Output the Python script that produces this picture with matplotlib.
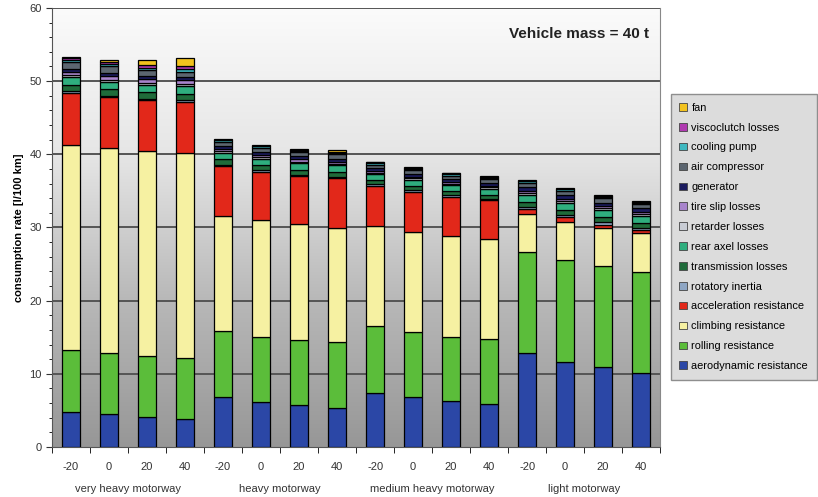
import numpy as np
import matplotlib.pyplot as plt
from matplotlib.patches import Patch

plt.rcParams['font.family'] = ['Liberation Sans', 'DejaVu Sans']

# 온도별 막대 라벨과 도로 구간
temps = ['-20', '0', '20', '40'] * 4
groups = ['very heavy motorway', 'heavy motorway', 'medium heavy motorway', 'light motorway']

# 각 손실 항목 (아래부터 위로 쌓는 순서)
aero = [4.8, 4.5, 4.1, 3.8, 6.8, 6.1, 5.8, 5.3, 7.4, 6.8, 6.3, 5.9, 12.8, 11.6, 10.9, 10.1]
rolling = [8.4, 8.3, 8.3, 8.4, 9.0, 8.9, 8.8, 9.0, 9.1, 8.9, 8.7, 8.8, 13.9, 13.9, 13.8, 13.8]
climbing = [28.1, 28.1, 28.1, 28.0, 15.8, 16.0, 15.9, 15.6, 13.7, 13.7, 13.8, 13.7, 5.1, 5.3, 5.2, 5.3]
accel = [7.1, 6.9, 6.9, 7.0, 6.8, 6.6, 6.5, 6.8, 5.5, 5.5, 5.4, 5.3, 0.7, 0.6, 0.5, 0.4]
rot_inertia = [0.2, 0.2, 0.2, 0.2, 0.2, 0.2, 0.2, 0.2, 0.2, 0.2, 0.2, 0.2, 0.3, 0.3, 0.3, 0.3]
transmission = [0.9, 0.9, 0.9, 0.9, 0.7, 0.7, 0.7, 0.7, 0.6, 0.6, 0.6, 0.6, 0.7, 0.7, 0.7, 0.7]
rear_axel = [1.0, 1.0, 1.0, 1.0, 0.9, 0.9, 0.9, 0.9, 0.8, 0.8, 0.8, 0.8, 1.0, 1.0, 1.0, 1.0]
retarder = [0.3, 0.3, 0.3, 0.3, 0.2, 0.2, 0.2, 0.2, 0.2, 0.2, 0.2, 0.2, 0.2, 0.2, 0.2, 0.2]
tire_slip = [0.5, 0.5, 0.5, 0.5, 0.3, 0.3, 0.3, 0.3, 0.2, 0.2, 0.2, 0.2, 0.3, 0.3, 0.3, 0.3]
generator = [0.4, 0.4, 0.4, 0.4, 0.4, 0.4, 0.4, 0.4, 0.4, 0.4, 0.4, 0.4, 0.5, 0.5, 0.5, 0.5]
air_comp = [0.9, 0.9, 0.8, 0.8, 0.6, 0.6, 0.6, 0.6, 0.5, 0.5, 0.5, 0.5, 0.6, 0.6, 0.6, 0.6]
cooling = [0.3, 0.3, 0.3, 0.3, 0.2, 0.2, 0.2, 0.2, 0.2, 0.2, 0.2, 0.2, 0.2, 0.2, 0.2, 0.2]
visco = [0.3, 0.3, 0.4, 0.4, 0.1, 0.1, 0.1, 0.1, 0.1, 0.1, 0.1, 0.1, 0.1, 0.1, 0.1, 0.1]
fan = [0.1, 0.3, 0.7, 1.2, 0.1, 0.1, 0.1, 0.3, 0.1, 0.1, 0.1, 0.2, 0.1, 0.1, 0.1, 0.1]

series = [aero, rolling, climbing, accel, rot_inertia, transmission, rear_axel,
          retarder, tire_slip, generator, air_comp, cooling, visco, fan]
names = ['aerodynamic resistance', 'rolling resistance', 'climbing resistance',
         'acceleration resistance', 'rotatory inertia', 'transmission losses',
         'rear axel losses', 'retarder losses', 'tire slip losses', 'generator',
         'air compressor', 'cooling pump', 'viscoclutch losses', 'fan']
colors = ['#2b47a6', '#5bbd3a', '#f6f1a2', '#e2281a', '#8ea6c4', '#1f6b3a',
          '#2fae7e', '#c8ccd4', '#a884cc', '#1b1b5e', '#5c6670', '#3fb8c0',
          '#b03ab0', '#f2c21e']

fig = plt.figure(figsize=(8.18, 4.97), dpi=100)
ax = fig.add_axes([0.0636, 0.1006, 0.7434, 0.8834])

# 배경 그라데이션
grad = np.linspace(0, 1, 256).reshape(-1, 1)
ax.imshow(grad, extent=[-0.5, 15.5, 0, 60], aspect='auto', origin='upper',
          cmap=plt.matplotlib.colors.LinearSegmentedColormap.from_list(
              'bg', ['#fbfbfb', '#e6e6e6', '#b8b8b8', '#979797']), zorder=0)

x = np.arange(16)
bottom = np.zeros(16)
for vals, c in zip(series, colors):
    ax.bar(x, vals, 0.48, bottom=bottom, color=c, edgecolor='black', linewidth=0.9, zorder=3)
    bottom += np.array(vals)

ax.set_xlim(-0.5, 15.5)
ax.set_ylim(0, 60)
for yv in [10, 20, 30, 40, 50, 60]:
    ax.axhline(yv, color='#555555', lw=1.4, zorder=1)

ax.set_yticks(range(0, 61, 10))
ax.set_yticks(range(0, 61, 2), minor=True)
ax.tick_params(axis='y', labelsize=8, colors='#333333', length=4)
ax.tick_params(axis='y', which='minor', length=2)
ax.set_xticks(x)
ax.set_xticklabels(temps, fontsize=8, color='#333333')
ax.set_xticks(np.arange(-0.5, 16, 1), minor=True)
ax.tick_params(axis='x', which='major', length=0, pad=11)
ax.tick_params(axis='x', which='minor', length=4)
ax.spines['top'].set_visible(False)
ax.spines['right'].set_color('#888888')
ax.spines['left'].set_color('#555555')
ax.spines['bottom'].set_color('#555555')

ax.set_ylabel('consumption rate [l/100 km]', fontsize=8, fontweight='bold')

for i, g in enumerate(groups):
    ax.text(i * 4 + 1.5, -5.7, g, ha='center', va='center', fontsize=8, color='#333333')

ax.text(15.2, 56.5, 'Vehicle mass = 40 t', ha='right', va='center', fontsize=11,
        fontweight='bold', color='#222222', zorder=5)

handles = [Patch(facecolor=c, edgecolor='#444444', linewidth=0.6) for c in colors]
leg = fig.legend(handles[::-1], names[::-1], loc='upper left',
                 bbox_to_anchor=(0.813, 0.822), fontsize=7.9, frameon=True,
                 fancybox=False, handlelength=0.7, handleheight=0.7,
                 handletextpad=0.4, labelspacing=0.9, borderpad=0.8)
leg.get_frame().set_facecolor('#d4d4d4')
leg.get_frame().set_edgecolor('#777777')

fig.savefig('out.png', dpi=100)
